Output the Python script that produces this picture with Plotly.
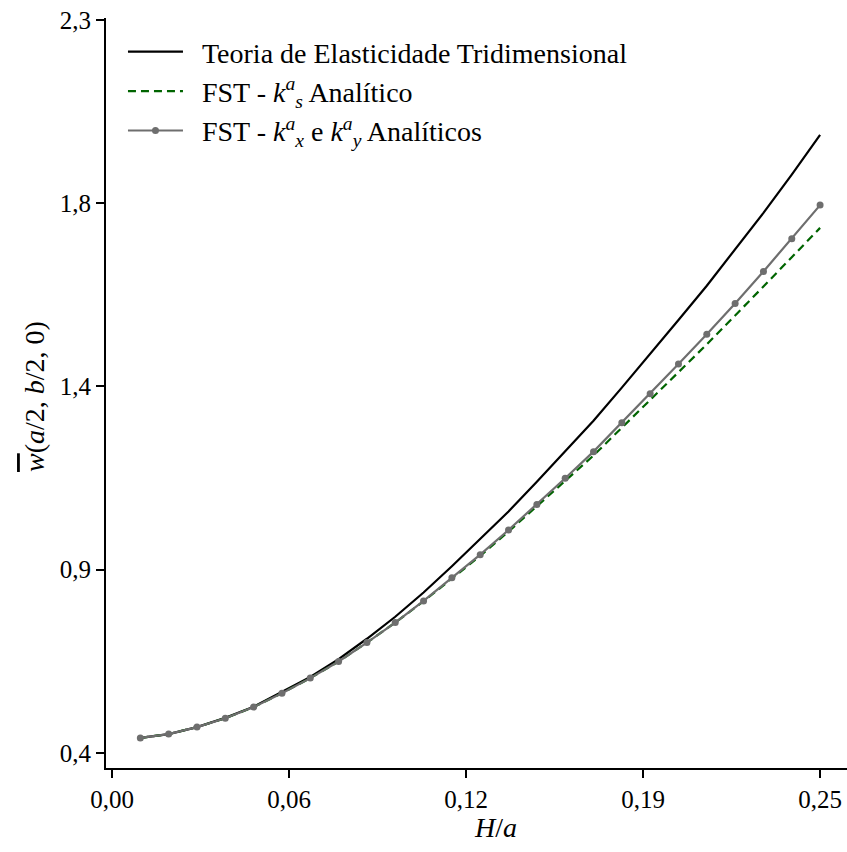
import numpy as np
import plotly.graph_objects as go

# H/a values
h_over_a = [0.01, 0.02, 0.03, 0.04, 0.05, 0.06, 0.07, 0.08, 0.09, 0.10,
            0.11, 0.12, 0.13, 0.14, 0.15, 0.16, 0.17, 0.18, 0.19, 0.20,
            0.21, 0.22, 0.23, 0.24, 0.25]

# Teoria de Elasticidade Tridimensional
w_3d = [0.439, 0.449, 0.467, 0.491, 0.520, 0.558, 0.597, 0.643, 0.696, 0.753,
        0.816, 0.884, 0.955, 1.026, 1.103, 1.181, 1.261, 1.347, 1.433, 1.522,
        1.611, 1.704, 1.800, 1.899, 2.002]

# FST - ks analitico
w_fst_ks = [0.439, 0.449, 0.467, 0.490, 0.519, 0.555, 0.594, 0.637, 0.686, 0.738,
            0.793, 0.852, 0.911, 0.974, 1.039, 1.105, 1.171, 1.243, 1.314, 1.387,
            1.459, 1.533, 1.609, 1.685, 1.761]

# FST - kx e ky analiticos
w_fst_kxky = [0.439, 0.449, 0.467, 0.490, 0.519, 0.555, 0.594, 0.637, 0.686, 0.738,
              0.794, 0.854, 0.914, 0.978, 1.044, 1.112, 1.181, 1.256, 1.331, 1.408,
              1.485, 1.565, 1.648, 1.733, 1.820]

x_tickvals = [0.0, 0.0625, 0.125, 0.1875, 0.25]
x_ticktext = ["0,00", "0,06", "0,12", "0,19", "0,25"]
y_tickvals = [0.4, 0.875, 1.35, 1.825, 2.3]
y_ticktext = ["0,4", "0,9", "1,4", "1,8", "2,3"]

x_title = "<i>H</i>/<i>a</i>"
y_title = "<span style=\"text-decoration:overline\"><i>w</i></span>(<i>a</i>/2, <i>b</i>/2, 0)"

FONT = "Liberation Serif"
NB = "\u00a0\u00a0"

fig = go.Figure()
fig.add_trace(go.Scatter(
    x=h_over_a, y=w_3d, mode="lines",
    name=NB + "Teoria de Elasticidade Tridimensional",
    line=dict(color="black", width=2.2),
))
fig.add_trace(go.Scatter(
    x=h_over_a, y=w_fst_ks, mode="lines",
    name=NB + "FST - <i>k</i><sup><i>a</i></sup><sub><i>s</i></sub> Analítico",
    line=dict(color="#006400", width=2.2, dash="8px,5px"),
))
fig.add_trace(go.Scatter(
    x=h_over_a, y=w_fst_kxky, mode="lines+markers",
    name=NB + "FST - <i>k</i><sup><i>a</i></sup><sub><i>x</i></sub> e <i>k</i><sup><i>a</i></sup><sub><i>y</i></sub> Analíticos",
    line=dict(color="#6e6e6e", width=2.2),
    marker=dict(color="#6e6e6e", size=7),
))

fig.update_layout(
    width=847, height=852,
    margin=dict(l=106, r=0, t=18, b=84),
    paper_bgcolor="white", plot_bgcolor="white",
    font=dict(family=FONT, size=25, color="black"),
    showlegend=True,
    legend=dict(
        x=0.0229, y=0.988, xanchor="left", yanchor="top",
        bgcolor="rgba(255,255,255,0)", borderwidth=0,
        itemwidth=55, font=dict(family=FONT, size=28),
        tracegroupgap=0,
    ),
    xaxis=dict(
        range=[-0.00212, 0.2595],
        tickvals=x_tickvals, ticktext=x_ticktext,
        showgrid=False, zeroline=False,
        showline=True, linecolor="black", linewidth=2,
        ticks="outside", ticklen=8, tickwidth=2, tickcolor="black",
        tickfont=dict(size=25),
    ),
    yaxis=dict(
        range=[0.361, 2.305],
        tickvals=y_tickvals, ticktext=y_ticktext,
        showgrid=False, zeroline=False,
        showline=True, linecolor="black", linewidth=2,
        ticks="outside", ticklen=8, tickwidth=2, tickcolor="black",
        tickfont=dict(size=25),
    ),
    annotations=[
        dict(text=x_title, xref="paper", yref="paper", x=0.526, y=-0.079,
             xanchor="center", yanchor="middle", showarrow=False,
             font=dict(family=FONT, size=28)),
        dict(text=y_title, xref="paper", yref="paper", x=-0.0958, y=0.4947,
             xanchor="center", yanchor="middle", showarrow=False, textangle=-90,
             font=dict(family=FONT, size=28)),
    ],
)

fig.write_html("out.html")
